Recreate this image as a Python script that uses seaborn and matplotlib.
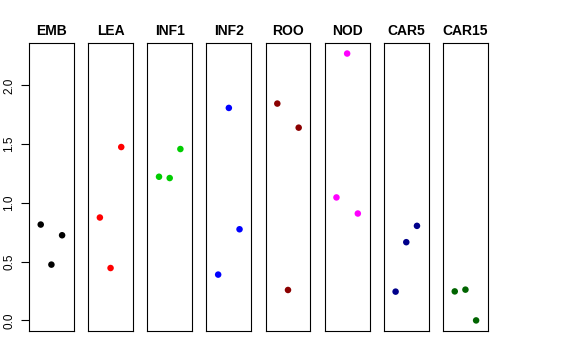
import matplotlib
matplotlib.use("Agg")
import matplotlib.pyplot as plt
import seaborn as sns
import pandas as pd

# Panels, their colours and the three values per panel
groups = ["EMB", "LEA", "INF1", "INF2", "ROO", "NOD", "CAR5", "CAR15"]
colors = ["black", "red", "#00CD00", "blue", "#8B0000", "magenta", "#00008B", "#006400"]
emb = [0.816, 0.475, 0.725]
lea = [0.876, 0.446, 1.476]
inf1 = [1.223, 1.212, 1.459]
inf2 = [0.390, 1.809, 0.776]
roo = [1.846, 0.259, 1.641]
nod = [1.047, 2.272, 0.910]
car5 = [0.245, 0.666, 0.805]
car15 = [0.247, 0.262, 0.000]
values = [emb, lea, inf1, inf2, roo, nod, car5, car15]


def build_frame() -> pd.DataFrame:
    rows = []
    for g, vals in zip(groups, values):
        for i, v in enumerate(vals, start=1):
            rows.append({"group": g, "pos": i, "value": v})
    return pd.DataFrame(rows)


def run() -> None:
    sns.set_style("white")
    plt.rcParams["font.family"] = ["Liberation Sans", "DejaVu Sans"]
    plt.rcParams["text.color"] = "black"
    plt.rcParams["ytick.color"] = "black"
    plt.rcParams["axes.titlecolor"] = "black"

    df = build_frame()
    fig, axes = plt.subplots(1, 8, figsize=(5.76, 3.6), dpi=100, sharey=True)
    fig.subplots_adjust(left=0.0503, right=0.847, bottom=0.0806, top=0.880, wspace=0.318)

    for ax, g, col in zip(axes, groups, colors):
        sub = df[df["group"] == g]
        sns.scatterplot(data=sub, x="pos", y="value", color=col, s=22,
                        edgecolor="none", ax=ax, legend=False)
        ax.set_xlim(-0.1, 4.1)
        ax.set_ylim(-0.09, 2.36)
        ax.set_xticks([])
        ax.set_xlabel("")
        ax.set_ylabel("")
        ax.set_title(g, fontsize=10, fontweight="bold", pad=6, color="black")
        for sp in ax.spines.values():
            sp.set_visible(True)
            sp.set_color("black")
            sp.set_linewidth(0.8)

    axes[0].set_yticks([0.0, 0.5, 1.0, 1.5, 2.0])
    axes[0].set_yticklabels(["0.0", "0.5", "1.0", "1.5", "2.0"], rotation=90, va="center")
    axes[0].tick_params(axis="y", left=True, length=6, width=0.8, labelsize=8.5,
                        pad=4, colors="black")
    for ax in axes[1:]:
        ax.tick_params(axis="y", left=False, labelleft=False)

    fig.savefig("out.png", dpi=100)


run()
